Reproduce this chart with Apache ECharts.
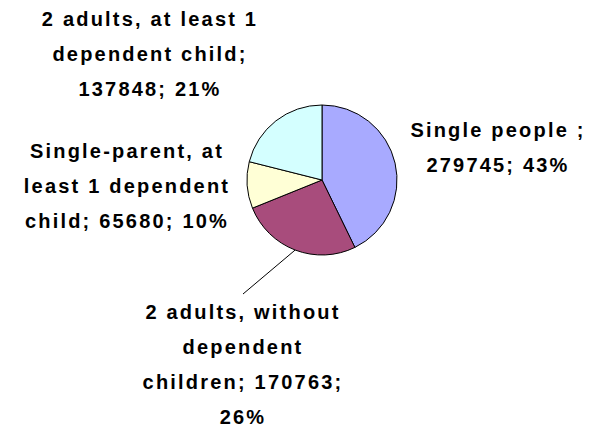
<!DOCTYPE html>
<html>
<head>
<meta charset="utf-8">
<script src="https://cdn.jsdelivr.net/npm/echarts@6/dist/echarts.min.js"></script>
<style>
  html, body { margin: 0; padding: 0; background: #fff; }
  #chart { width: 598px; height: 428px; }
  /* the source chart has loosely spaced label text */
  #chart svg text { letter-spacing: 2.2px; }
</style>
</head>
<body>
<div id="chart"></div>
<script>
// data, clockwise from 12 o'clock
var categories = ['Single people ', '2 adults, without dependent children', 'Single-parent, at least 1 dependent child', '2 adults, at least 1 dependent child'];
var values = [279745, 170763, 65680, 137848];
var percents = ['43%', '26%', '10%', '21%'];
var labelTexts = [
  'Single people ;\n279745; 43%',
  '2 adults, without\ndependent\nchildren; 170763;\n26%',
  'Single-parent, at\nleast 1 dependent\nchild; 65680; 10%',
  '2 adults, at least 1\ndependent child;\n137848; 21%'
];
var colors = ['#a8aaff', '#a84c7c', '#ffffd6', '#d4ffff'];

// where each label block sits (centre of block)
var labelPos = [[498, 147], [243, 364], [127, 186], [150, 54]];

var myChart = echarts.init(document.getElementById('chart'), null, { renderer: 'svg' });

var pieData = [];
for (var i = 0; i < values.length; i++) {
  pieData.push({
    name: categories[i],
    value: values[i],
    itemStyle: { color: colors[i] },
    label: { formatter: labelTexts[i] },
    labelLine: { show: i === 1 }
  });
}

var option = {
  animation: false,
  series: [{
    type: 'pie',
    center: [322, 180],
    radius: 75,
    startAngle: 90,
    clockwise: true,
    itemStyle: { borderColor: '#000', borderWidth: 1 },
    label: {
      show: true,
      position: 'outside',
      color: '#000',
      fontFamily: 'Liberation Sans',
      fontWeight: 'bold',
      fontSize: 20,
      lineHeight: 35,
      align: 'center'
    },
    labelLine: {
      show: false,
      length: 10,
      length2: 0,
      lineStyle: { color: '#000', width: 1 }
    },
    labelLayout: function (params) {
      var p = labelPos[params.dataIndex];
      return { x: p[0], y: p[1], align: 'center', verticalAlign: 'middle' };
    },
    data: pieData
  }]
};

myChart.setOption(option);
</script>
</body>
</html>
